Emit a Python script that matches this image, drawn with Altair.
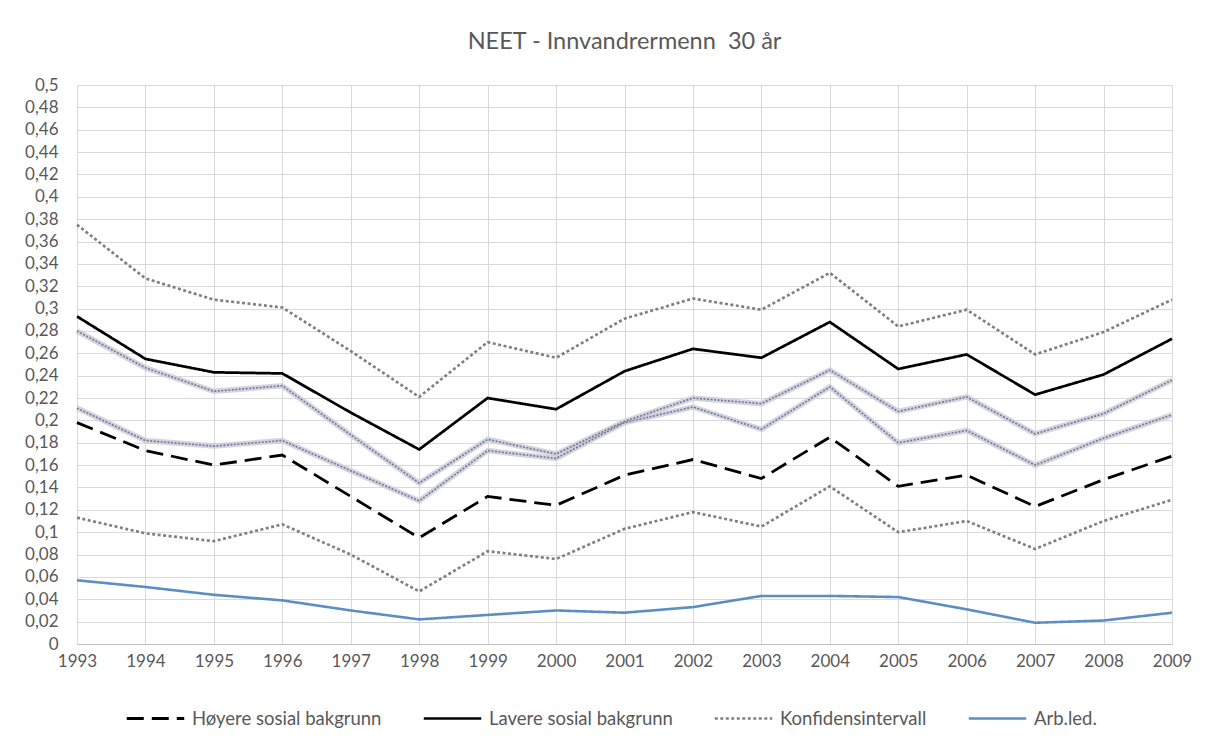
import altair as alt
import pandas as pd

years = list(range(1993, 2010))

hoyere = [0.198, 0.173, 0.160, 0.169, 0.132, 0.095, 0.132, 0.124, 0.151, 0.165, 0.148, 0.185, 0.141, 0.151, 0.123, 0.147, 0.168]
lavere = [0.293, 0.255, 0.243, 0.242, 0.207, 0.174, 0.220, 0.210, 0.244, 0.264, 0.256, 0.288, 0.246, 0.259, 0.223, 0.241, 0.273]
ci_upper = [0.375, 0.327, 0.308, 0.301, 0.262, 0.221, 0.270, 0.256, 0.291, 0.309, 0.299, 0.332, 0.284, 0.299, 0.259, 0.279, 0.308]
ci_lower = [0.113, 0.099, 0.092, 0.107, 0.080, 0.047, 0.083, 0.076, 0.103, 0.118, 0.105, 0.141, 0.100, 0.110, 0.085, 0.110, 0.129]
band_upper = [0.280, 0.247, 0.226, 0.231, 0.187, 0.144, 0.183, 0.170, 0.199, 0.220, 0.215, 0.245, 0.208, 0.221, 0.188, 0.206, 0.236]
band_lower = [0.211, 0.182, 0.177, 0.182, 0.155, 0.128, 0.173, 0.166, 0.198, 0.212, 0.192, 0.230, 0.180, 0.191, 0.160, 0.184, 0.205]
arb = [0.057, 0.051, 0.044, 0.039, 0.030, 0.022, 0.026, 0.030, 0.028, 0.033, 0.043, 0.043, 0.042, 0.031, 0.019, 0.021, 0.028]

y_ticks = [0, 0.02, 0.04, 0.06, 0.08, 0.1, 0.12, 0.14, 0.16, 0.18, 0.2, 0.22, 0.24, 0.26,
           0.28, 0.3, 0.32, 0.34, 0.36, 0.38, 0.4, 0.42, 0.44, 0.46, 0.48, 0.5]

series_names = ["Høyere sosial bakgrunn", "Lavere sosial bakgrunn", "Konfidensintervall", "Arb.led."]
series_colors = ["#000000", "#000000", "#808080", "#5b8ec4"]
series_dash = [[17, 8], [1, 0], [3, 2.5], [1, 0]]
series_width = [2.8, 2.6, 1.0, 2.6]

rows = []
for name, line, vals in [
    ("Høyere sosial bakgrunn", "h", hoyere),
    ("Lavere sosial bakgrunn", "l", lavere),
    ("Konfidensintervall", "cu", ci_upper),
    ("Konfidensintervall", "cl", ci_lower),
    ("Arb.led.", "a", arb),
]:
    for yr, v in zip(years, vals):
        rows.append({"year": yr, "value": v, "serie": name, "line": line})
main_df = pd.DataFrame(rows)

brows = []
for line, vals in [("bu", band_upper), ("bl", band_lower)]:
    for yr, v in zip(years, vals):
        brows.append({"year": yr, "value": v, "line": line})
band_df = pd.DataFrame(brows)

FONT = "Lato"
TXT = "#595959"

x_enc = alt.X(
    "year:Q",
    scale=alt.Scale(domain=[1993, 2009], nice=False, zero=False),
    axis=alt.Axis(
        values=years, format="d", title=None, grid=True, gridColor="#d9d9d9",
        ticks=False, domain=True, domainColor="#bfbfbf", labelPadding=9,
        labelFontSize=17, labelColor=TXT, labelFont=FONT, labelFlush=False,
        labelOverlap=False,
    ),
)
y_enc = alt.Y(
    "value:Q",
    scale=alt.Scale(domain=[0, 0.5], nice=False),
    axis=alt.Axis(
        values=y_ticks, title=None, grid=True, gridColor="#d9d9d9", ticks=False,
        domain=False, labelPadding=19, labelFontSize=17, labelColor=TXT,
        labelFont=FONT, labelOverlap=False, labelFlush=False,
        labelExpr="replace(format(datum.value, '.2~f'), '.', ',')",
    ),
)

legend_cfg = dict(
    title=None, orient="none", direction="horizontal", legendX=48, legendY=603,
    symbolType="stroke", symbolSize=3300,
    labelFontSize=18.5, labelColor=TXT, labelFont=FONT, labelLimit=400,
    columnPadding=36, labelOffset=6,
)

halo = alt.Chart(band_df).mark_line(color="#c9cce2", strokeWidth=5.5, opacity=0.85).encode(
    x=x_enc, y=y_enc, detail="line:N"
)
core = alt.Chart(band_df).mark_line(color="#7a7a7a", strokeWidth=1.6, strokeDash=[2, 1.5]).encode(
    x=x_enc, y=y_enc, detail="line:N"
)

main = alt.Chart(main_df).mark_line().encode(
    x=x_enc,
    y=y_enc,
    detail="line:N",
    color=alt.Color(
        "serie:N",
        scale=alt.Scale(domain=series_names, range=series_colors),
        legend=alt.Legend(**legend_cfg),
    ),
    strokeDash=alt.StrokeDash(
        "serie:N",
        scale=alt.Scale(domain=series_names, range=series_dash),
        legend=alt.Legend(**legend_cfg),
    ),
    strokeWidth=alt.StrokeWidth(
        "serie:N",
        scale=alt.Scale(domain=series_names, range=series_width),
        legend=alt.Legend(**legend_cfg),
    ),
)

chart = alt.layer(halo, core, main).properties(
    width=1095,
    height=559,
    autosize=alt.AutoSizeParams(type="none"),
    padding={"left": 69, "top": 77, "right": 33, "bottom": 87},
    title=alt.Title(
        "NEET - Innvandrermenn\u00a0 30 år", fontSize=23.5, font=FONT, fontWeight="normal",
        color=TXT, offset=23, frame="group",
    ),
).configure_view(stroke=None).configure_axis(labelOverlap=False, labelFlush=False)

chart.save("out.html", embed_options={"renderer": "svg", "actions": False})
